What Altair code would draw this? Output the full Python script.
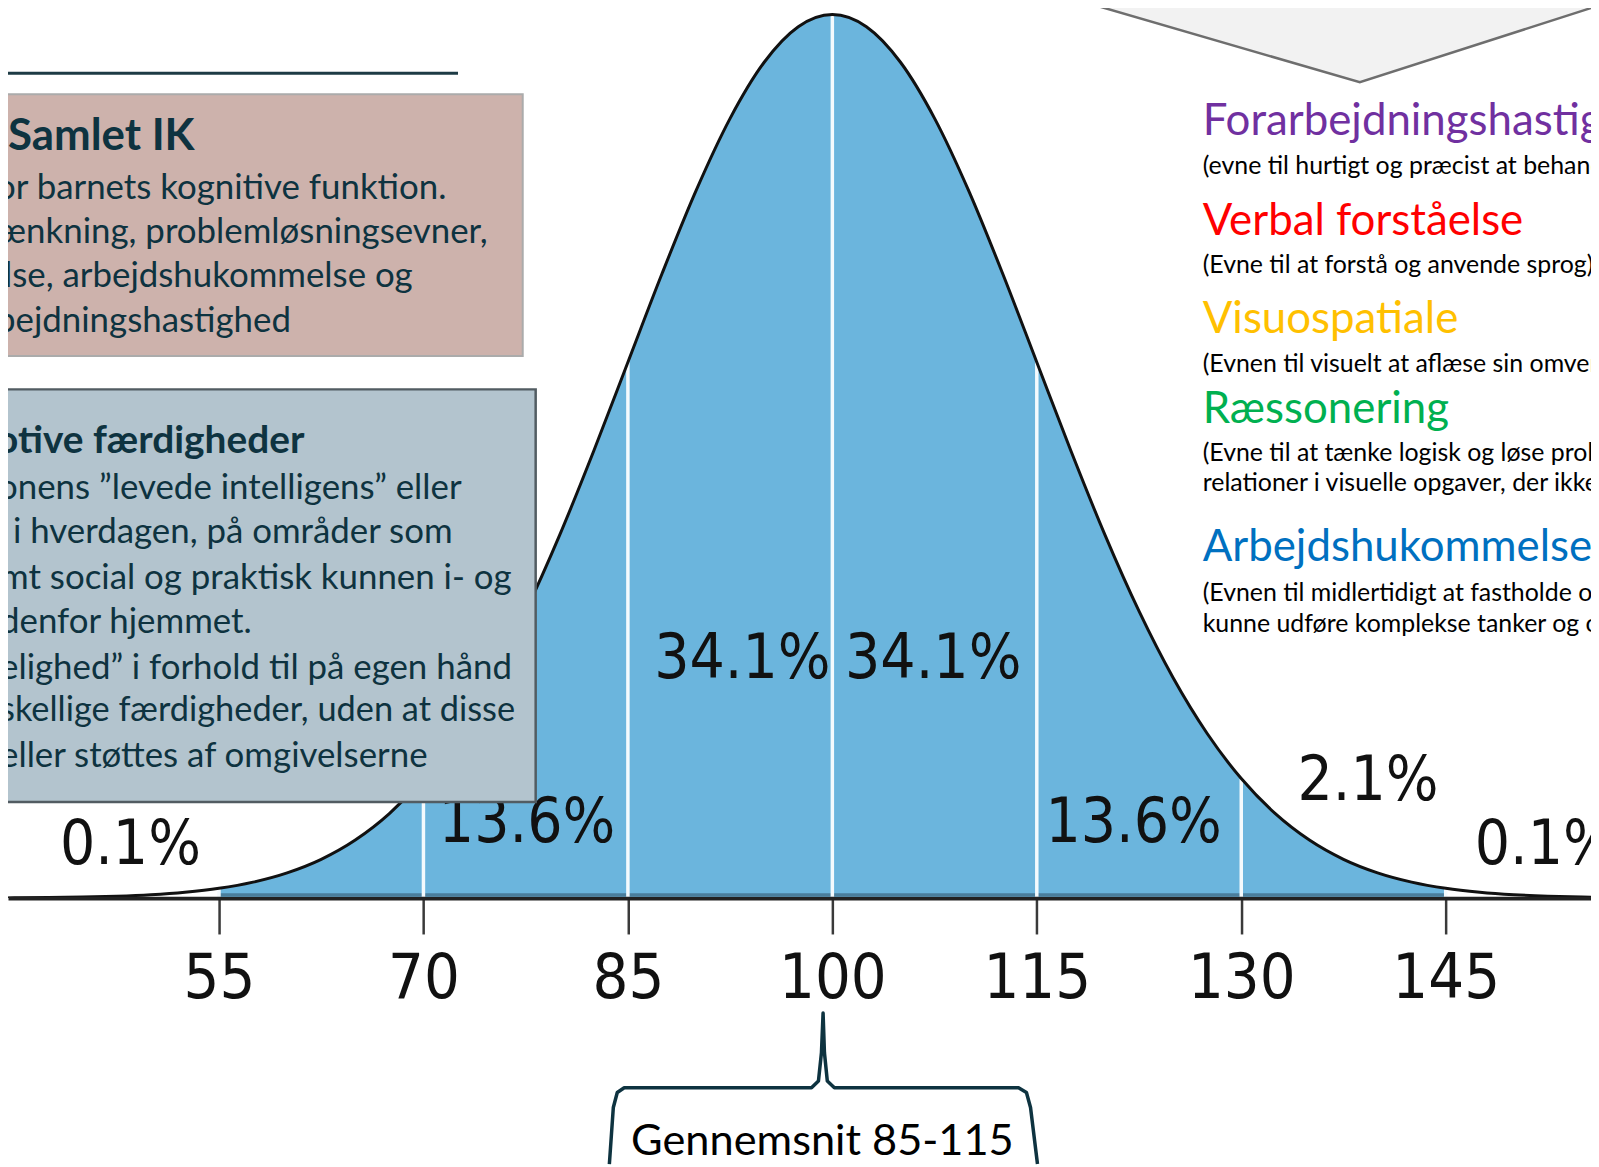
import altair as alt
import pandas as pd

# ---------------- data ----------------
IQ = [37.5, 40, 42.5, 45, 47.5, 50, 52.5, 55, 57.5, 60, 62.5, 65, 67.5, 70, 72.5, 75,
      77.5, 80, 82.5, 85, 87.5, 90, 92.5, 95, 97.5, 100, 102.5, 105, 107.5, 110, 112.5,
      115, 117.5, 120, 122.5, 125, 127.5, 130, 132.5, 135, 137.5, 140, 142.5, 145,
      147.5, 150, 152.5, 155, 157.5, 160, 162.5]
DENSITY = [0.0002, 0.0003, 0.0006, 0.0012, 0.0022, 0.0039, 0.0067, 0.0111, 0.0181, 0.0286,
           0.0439, 0.0657, 0.0956, 0.1353, 0.1863, 0.2494, 0.3247, 0.4111, 0.5063, 0.6065,
           0.7066, 0.8007, 0.8825, 0.9460, 0.9862, 1.0000, 0.9862, 0.9460, 0.8825, 0.8007,
           0.7066, 0.6065, 0.5063, 0.4111, 0.3247, 0.2494, 0.1863, 0.1353, 0.0956, 0.0657,
           0.0439, 0.0286, 0.0181, 0.0111, 0.0067, 0.0039, 0.0022, 0.0012, 0.0006, 0.0003,
           0.0002]
BOUNDS = [55, 70, 85, 100, 115, 130, 145]
TICK_VALUES = [55, 70, 85, 100, 115, 130, 145]

PCT_TEXT = ["0.1%", "2.1%", "13.6%", "34.1%", "34.1%", "13.6%", "2.1%", "0.1%"]
PCT_X = [48.5, 61.1, 77.6, 93.4, 107.4, 122.1, 139.3, 152.3]
PCT_Y = [0.060, 0.132, 0.085, 0.270, 0.270, 0.085, 0.132, 0.060]

BOX1_TITLE = "Samlet IK"
BOX1_LINES = ["or barnets kognitive funktion.",
              "ænkning, problemløsningsevner,",
              "lse, arbejdshukommelse og",
              "bejdningshastighed"]
BOX2_TITLE = "otive færdigheder"
BOX2_LINES = ["onens ”levede intelligens” eller",
              "i hverdagen, på områder som",
              "mt social og praktisk kunnen i- og",
              "denfor hjemmet.",
              "elighed” i forhold til på egen hånd",
              "skellige færdigheder, uden at disse",
              "eller støttes af omgivelserne"]

RIGHT_TITLES = ["Forarbejdningshastighed", "Verbal forståelse", "Visuospatiale",
                "Ræssonering", "Arbejdshukommelse"]
RIGHT_NOTES = ["(evne til hurtigt og præcist at behandle information)",
               "(Evne til at forstå og anvende sprog)",
               "(Evnen til visuelt at aflæse sin omverden)",
               "(Evne til at tænke logisk og løse problemer, og se",
               "relationer i visuelle opgaver, der ikke kræver sprog)",
               "(Evnen til midlertidigt at fastholde og bearbejde information for at",
               "kunne udføre komplekse tanker og opgaver)"]
BRACKET_TEXT = "Gennemsnit 85-115"

# bracket under the axis (IQ units / density units)
BRACKET_X = [83.64, 83.93, 84.22, 84.73, 98.47, 98.98, 99.20, 99.32, 99.42, 99.63,
             100.15, 113.66, 114.24, 114.54, 115.05]
BRACKET_Y = [-0.301, -0.237, -0.220, -0.2146, -0.2146, -0.207, -0.175, -0.130, -0.175,
             -0.207, -0.2146, -0.2146, -0.220, -0.237, -0.301]
# grey chevron in the top right corner
CHEV_X = [118.6, 138.7, 155.9]
CHEV_Y = [1.0135, 0.9234, 1.0085]

# ---------------- layout / style ----------------
W, H = 1590, 891.5
BOTTOM = 266.5
XS = alt.Scale(domain=[39.52, 155.66], nice=False, zero=False)
YS = alt.Scale(domain=[0, 1.0045], nice=False, zero=False)
NUMFONT = "DejaVu Sans Condensed, Roboto, sans-serif"
LATO = "Lato, Open Sans, sans-serif"
AX = alt.Axis(values=TICK_VALUES, title=None, grid=False, tickSize=36, tickWidth=2.5,
              tickColor="#3a3a3a", domainColor="#222222", domainWidth=4,
              labelFont=NUMFONT, labelFontSize=63, labelColor="#111111",
              labelPadding=14, labelFlush=False, labelOverlap=False, zindex=1)
BLUE = "#6BB5DD"
DARK = "#0E3340"

curve = pd.DataFrame({"iq": IQ, "d": DENSITY})
hmap = dict(zip(IQ, DENSITY))
sep = pd.DataFrame({"iq": BOUNDS, "h": [hmap[b] for b in BOUNDS], "z": [0] * len(BOUNDS)})
pct = pd.DataFrame({"iq": PCT_X, "d": PCT_Y, "t": PCT_TEXT})
bracket = pd.DataFrame({"iq": BRACKET_X, "d": BRACKET_Y, "o": list(range(len(BRACKET_X)))})
chev = pd.DataFrame({"iq": CHEV_X, "d": CHEV_Y, "top": [1.03] * len(CHEV_X)})

X = lambda f="iq": alt.X(f"{f}:Q", scale=XS, axis=AX)
Y = lambda f="d": alt.Y(f"{f}:Q", scale=YS, axis=None)

area = alt.Chart(curve).transform_filter(
    (alt.datum.iq >= 55) & (alt.datum.iq <= 145)
).mark_area(color=BLUE, interpolate="monotone").encode(x=X(), y=Y())

strip = alt.Chart(pd.DataFrame({"iq": [55], "iq2": [145], "d": [0]})).mark_rule(
    color="#4A7E9C", strokeWidth=3, yOffset=-3.5
).encode(x=X(), x2="iq2:Q", y=Y())

seps = alt.Chart(sep).mark_rule(color="#F4FAFD", strokeWidth=3.5).encode(
    x=X(), y=Y("z"), y2="h:Q")

line = alt.Chart(curve).mark_line(color="#111111", strokeWidth=3, interpolate="monotone",
                                  clip=True).encode(x=X(), y=Y())

labels = alt.Chart(pct).mark_text(font=NUMFONT, fontSize=62, color="#111111",
                                  align="center", baseline="middle").encode(
    x=X(), y=Y(), text="t:N")

chev_fill = alt.Chart(chev).mark_area(color="#F2F2F2").encode(x=X(), y=Y(), y2="top:Q")
chev_line = alt.Chart(chev).mark_line(color="#6E6E6E", strokeWidth=2.5).encode(x=X(), y=Y())

brk = alt.Chart(bracket).mark_line(color=DARK, strokeWidth=3.5, strokeJoin="round").encode(
    x=X(), y=Y(), order="o:Q")


def rect(x1, x2, y1, y2, fill, stroke, sw):
    return alt.Chart(pd.DataFrame({"a": [0]})).mark_rect(
        fill=fill, stroke=stroke, strokeWidth=sw
    ).encode(x=alt.value(x1), x2=alt.value(x2), y=alt.value(y1), y2=alt.value(y2))


def txt(s, x, y, size, color, weight="normal", font=LATO, align="left"):
    return alt.Chart(pd.DataFrame({"t": [s]})).mark_text(
        align=align, baseline="middle", fontSize=size, font=font, fontWeight=weight,
        color=color
    ).encode(text="t:N", x=alt.value(x), y=alt.value(y))


layers = [area, strip, seps, line, labels, chev_fill, chev_line]

# top-left rule
layers.append(alt.Chart(pd.DataFrame({"a": [0]})).mark_rule(color="#1D3B45", strokeWidth=3)
              .encode(x=alt.value(-10), x2=alt.value(452), y=alt.value(63)))

# box 1
layers.append(rect(-12, 517, 84, 347, "#CDB2AC", "#ABABAB", 2))
layers.append(txt(BOX1_TITLE, 0, 127, 44, DARK, weight="bold"))
b1x = [-12, -10, -4, -12]
b1y = [178, 222.5, 267, 312]
for s, x, y in zip(BOX1_LINES, b1x, b1y):
    layers.append(txt(s, x, y, 35, DARK))

# box 2
layers.append(rect(-12, 530, 380.5, 795, "#B3C4CE", "#525C62", 2.5))
layers.append(txt(BOX2_TITLE, -12, 432.5, 39, DARK, weight="bold"))
b2x = [-10, 5, -8, -8, -8, -8, -8]
b2y = [479.5, 524, 570, 614, 660, 704, 749]
b2s = [35, 35, 35, 35, 35, 34.5, 35]
for s, x, y, fs in zip(BOX2_LINES, b2x, b2y, b2s):
    layers.append(txt(s, x, y, fs, DARK))

# right-hand texts
RCOL = ["#7030A0", "#FF0000", "#FFC000", "#00B050", "#0070C0"]
rty = [112, 212, 311, 401, 540]
for s, c, y in zip(RIGHT_TITLES, RCOL, rty):
    layers.append(txt(s, 1200, y, 44, c))
rny = [156, 256, 355, 444, 475, 585, 616]
for s, y in zip(RIGHT_NOTES, rny):
    layers.append(txt(s, 1200, y, 25, "#000000"))

# bracket + caption
layers.append(brk)
layers.append(txt(BRACKET_TEXT, 818, 1137, 43.5, "#000000", align="center"))

chart = alt.layer(*layers).properties(
    width=W, height=H,
    autosize=alt.AutoSizeParams(type="none"),
    padding={"left": 0, "top": 0, "right": 0, "bottom": BOTTOM},
    background="white",
).configure_view(stroke=None)

chart.save("out.html", embed_options={"renderer": "svg", "actions": False})
